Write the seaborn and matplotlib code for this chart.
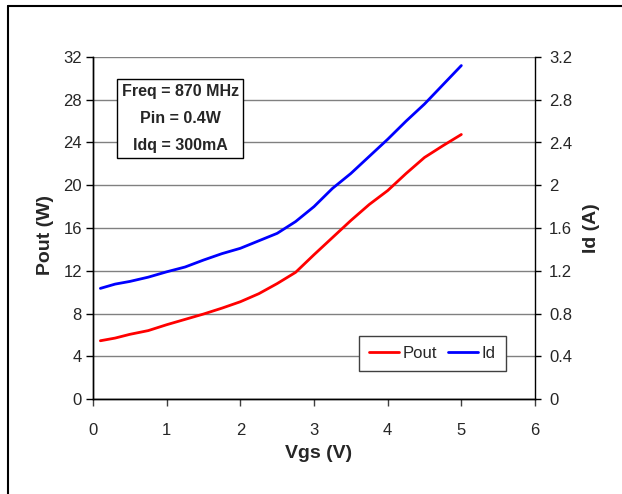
import numpy as np
import pandas as pd
import matplotlib
matplotlib.use("Agg")
import matplotlib.pyplot as plt
from matplotlib.lines import Line2D
import seaborn as sns

# ── Data ───────────────────────────────────────────────────────────────────────
vgs = [0.1, 0.3, 0.5, 0.75, 1.0, 1.25, 1.5, 1.75, 2.0, 2.25, 2.5,
       2.75, 3.0, 3.25, 3.5, 3.75, 4.0, 4.25, 4.5, 4.75, 5.0]
pout = [5.45, 5.7, 6.05, 6.4, 6.95, 7.45, 7.95, 8.5, 9.1, 9.85, 10.8,
        11.85, 13.5, 15.1, 16.7, 18.2, 19.5, 21.1, 22.6, 23.7, 24.75]
idrain = [1.035, 1.075, 1.10, 1.14, 1.19, 1.235, 1.30, 1.36, 1.41, 1.48, 1.55,
          1.66, 1.80, 1.97, 2.11, 2.27, 2.43, 2.60, 2.76, 2.94, 3.12]

x_ticks = [0, 1, 2, 3, 4, 5, 6]
pout_ticks = [0, 4, 8, 12, 16, 20, 24, 28, 32]
id_ticks = [0, 0.4, 0.8, 1.2, 1.6, 2, 2.4, 2.8, 3.2]
id_labels = ["0", "0.4", "0.8", "1.2", "1.6", "2", "2.4", "2.8", "3.2"]

info_text = "Freq = 870 MHz\nPin = 0.4W\nIdq = 300mA"

df = pd.DataFrame({"Vgs": vgs, "Pout": pout, "Id": idrain})

# ── Style ──────────────────────────────────────────────────────────────────────
sns.set_style("white")
plt.rcParams["font.family"] = ["Liberation Sans", "DejaVu Sans"]

fig = plt.figure(figsize=(6.22, 4.94), dpi=100)
ax = fig.add_axes([93 / 622, 1 - 399 / 494, 442 / 622, 342 / 494])
ax2 = ax.twinx()

sns.lineplot(data=df, x="Vgs", y="Pout", ax=ax, color="#ff0000", linewidth=2)
sns.lineplot(data=df, x="Vgs", y="Id", ax=ax2, color="#0000ff", linewidth=2)

ax.set_xlim(0, 6)
ax.set_ylim(0, 32)
ax2.set_ylim(0, 3.2)
ax.set_xticks(x_ticks)
ax.set_yticks(pout_ticks)
ax2.set_yticks(id_ticks)
ax2.set_yticklabels(id_labels)

ax.yaxis.grid(True, color="#808080", linewidth=1)
ax.xaxis.grid(False)
ax2.grid(False)

for a in (ax, ax2):
    a.spines["top"].set_visible(False)
    for s in ("left", "right", "bottom"):
        a.spines[s].set_color("black")
        a.spines[s].set_linewidth(1)
ax.spines["right"].set_visible(False)

ax.tick_params(axis="x", direction="out", length=5, width=1, color="#404040",
               labelsize=12, pad=12, bottom=True)
ax.tick_params(axis="y", direction="out", length=5, width=1, color="black",
               labelsize=12, pad=3, left=True)
ax2.tick_params(axis="y", direction="out", length=4, width=1, color="black",
                labelsize=12, pad=6, right=True)

ax.set_xlabel("Vgs (V)", fontsize=14, fontweight="bold")
ax.set_ylabel("Pout (W)", fontsize=14, fontweight="bold")
ax2.set_ylabel("Id (A)", fontsize=14, fontweight="bold", rotation=90)
ax.xaxis.set_label_coords(0.51, -0.135)
ax.yaxis.set_label_coords(-0.088, 0.48)
ax2.yaxis.set_label_coords(1.109, 0.5)

# annotation box
ax.text(0.197, 0.82, info_text, transform=ax.transAxes, ha="center", va="center",
        fontsize=11.5, fontweight="bold", linespacing=2.0,
        bbox=dict(boxstyle="square,pad=0.3", facecolor="white", edgecolor="black",
                  linewidth=1), zorder=5)

# legend
handles = [Line2D([], [], color="#ff0000", linewidth=2),
           Line2D([], [], color="#0000ff", linewidth=2)]
leg = ax2.legend(handles, ["Pout", "Id"], loc="upper right",
                 bbox_to_anchor=(0.934, 0.184), borderaxespad=0, ncol=2,
                 fancybox=False, framealpha=1, edgecolor="#404040",
                 prop={"size": 12}, handlelength=1.8,
                 handletextpad=0.2, columnspacing=0.7, borderpad=0.6)
leg.get_frame().set_linewidth(1)

# outer frame of the original picture
fig.add_artist(Line2D([8 / 622, 8 / 622], [0, 1 - 6 / 494], color="black",
                      linewidth=1.5, transform=fig.transFigure))
fig.add_artist(Line2D([8 / 622, 1], [1 - 6 / 494, 1 - 6 / 494], color="black",
                      linewidth=1.5, transform=fig.transFigure))

fig.savefig("out.png", dpi=100)
plt.close(fig)
